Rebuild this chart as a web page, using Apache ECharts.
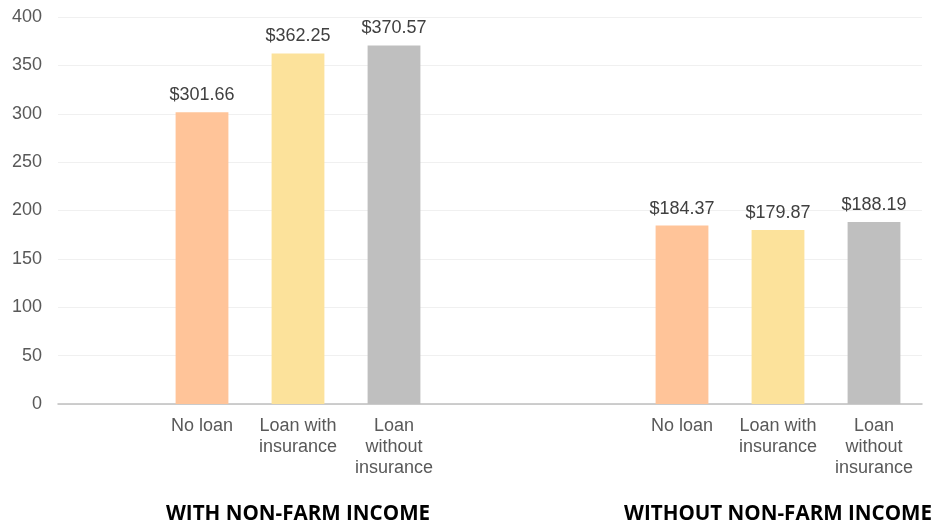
<!DOCTYPE html>
<html><head><meta charset="utf-8">
<script src="https://cdn.jsdelivr.net/npm/echarts@6/dist/echarts.min.js"></script>
<style>html,body{margin:0;padding:0;background:#fff}#c{width:943px;height:525px}</style>
</head><body><div id="c"></div>
<script>
const categories = ['', 'No loan', 'Loan with\ninsurance', 'Loan\nwithout\ninsurance', '', '', 'No loan', 'Loan with\ninsurance', 'Loan\nwithout\ninsurance'];
const groupLabels = ['', '', 'WITH NON-FARM INCOME', '', '', '', '', 'WITHOUT NON-FARM INCOME', ''];
const values = [null, 301.66, 362.25, 370.57, null, null, 184.37, 179.87, 188.19];
const barColors = [null, '#FFC499', '#FCE29B', '#BFBFBF', null, null, '#FFC499', '#FCE29B', '#BFBFBF'];
const yTicks = { min: 0, max: 400, interval: 50 };

const chart = echarts.init(document.getElementById('c'));
chart.setOption({
  animation: false,
  grid: { left: 58, right: 21, top: 17, bottom: 121, containLabel: false },
  xAxis: [
    {
      type: 'category', data: categories, position: 'bottom',
      axisLine: { lineStyle: { color: '#BFBFBF', width: 1.5 } },
      axisTick: { show: false },
      axisLabel: { color: '#595959', fontFamily: 'Liberation Sans', fontSize: 18, lineHeight: 21, margin: 12, interval: 0 }
    },
    {
      type: 'category', data: groupLabels, position: 'bottom', offset: 100,
      axisLine: { show: false }, axisTick: { show: false },
      axisLabel: { color: '#000', fontFamily: 'Open Sans', fontWeight: 'bold', fontSize: 20.6, margin: 0, interval: 0 }
    }
  ],
  yAxis: {
    type: 'value', min: yTicks.min, max: yTicks.max, interval: yTicks.interval,
    axisLine: { show: false }, axisTick: { show: false },
    axisLabel: { color: '#595959', fontFamily: 'Liberation Sans', fontSize: 18, margin: 16 },
    splitLine: { lineStyle: { color: '#F0F0F0', width: 1 } }
  },
  series: [{
    type: 'bar', xAxisIndex: 0, barWidth: '55%',
    data: values.map((v, i) => ({ value: v, itemStyle: { color: barColors[i] } })),
    label: {
      show: true, position: 'top', distance: 8, color: '#404040',
      fontFamily: 'Liberation Sans', fontSize: 18,
      formatter: p => '$' + p.value.toFixed(2)
    }
  }]
});
</script></body></html>
